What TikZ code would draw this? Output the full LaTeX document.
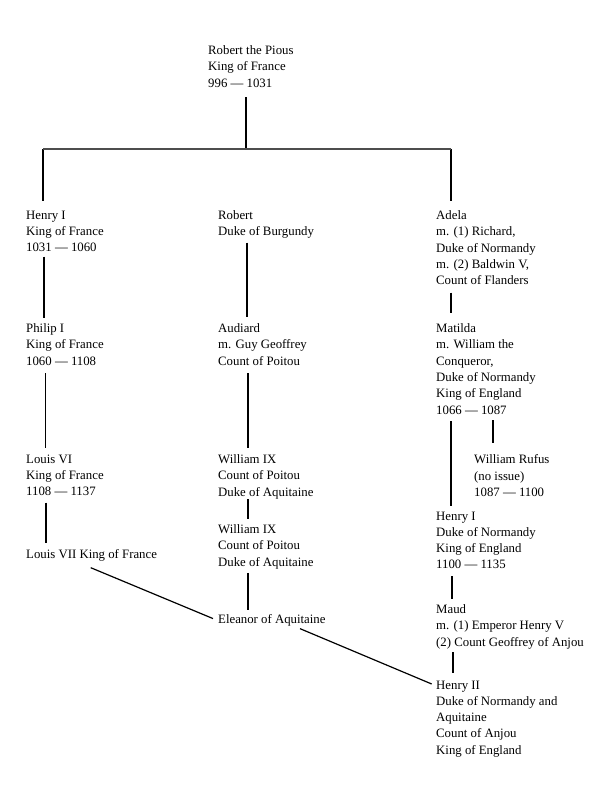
\documentclass[tikz,border=0pt]{standalone}
\usepackage{fontspec}
\setmainfont{Liberation Serif}
\usepackage{xcolor}
\definecolor{treegray}{HTML}{4D4D4D}

\begin{document}
\begin{tikzpicture}[x=1pt,y=-1pt,
  person/.style={anchor=north west,inner sep=0pt,align=left,font=\fontsize{12.8}{16.3}\selectfont},
  link/.style={line width=1.2pt},
  bar/.style={treegray,line width=1.8pt}]
\useasboundingbox (0,0) rectangle (600,800);
\node[person] (root) at (208,45.5) {Robert the Pious\\King of France\\996 --- 1031};
% left column
\node[person] (henryF) at (26,210.5) {Henry I\\King of France\\1031 --- 1060};
\node[person] (philip) at (26,323.5) {Philip I\\King of France\\1060 --- 1108};
\node[person] (louisVI) at (26,454.5) {Louis VI\\King of France\\1108 --- 1137};
\node[person] (louisVII) at (26,549.5) {Louis VII King of France};
% middle column
\node[person] (robertB) at (218,210.5) {Robert\\Duke of Burgundy};
\node[person] (audiard) at (218,323.5) {Audiard\\m. Guy Geoffrey\\Count of Poitou};
\node[person] (williamA) at (218,454.5) {William IX\\Count of Poitou\\Duke of Aquitaine};
\node[person] (williamB) at (218,524.5) {William IX\\Count of Poitou\\Duke of Aquitaine};
\node[person] (eleanor) at (218,614.5) {Eleanor of Aquitaine};
% right column
\node[person] (adela) at (436,210.5) {Adela\\m. (1) Richard,\\Duke of Normandy\\m. (2) Baldwin V,\\Count of Flanders};
\node[person] (matilda) at (436,323.5) {Matilda\\m. William the\\Conqueror,\\Duke of Normandy\\King of England\\1066 --- 1087};
\node[person] (rufus) at (474,454.5) {William Rufus\\(no issue)\\1087 --- 1100};
\node[person] (henryE) at (436,511.5) {Henry I\\Duke of Normandy\\King of England\\1100 --- 1135};
\node[person] (maud) at (436,604.5) {Maud\\m. (1) Emperor Henry V\\(2) Count Geoffrey of Anjou};
\node[person] (henryII) at (436,680.5) {Henry II\\Duke of Normandy and\\Aquitaine\\Count of Anjou\\King of England};

\coordinate (barL) at (43,148.7);
\coordinate (barM) at (246,148.7);
\coordinate (barR) at (451,148.7);
\draw[link] ([xshift=38pt,yshift=-9.5pt]root.south west) -- (barM);
\draw[link] (barL) -- ([xshift=17pt,yshift=9.8pt]henryF.north west);
\draw[link] (barR) -- ([xshift=15pt,yshift=9.8pt]adela.north west);
\draw[bar] (barL) -- (barR);

\draw[link] ([xshift=18pt,yshift=-4.5pt]henryF.south west) -- ([xshift=18pt,yshift=5.5pt]philip.north west);
\draw[link] ([xshift=19.5pt,yshift=-7.5pt]philip.south west) -- ([xshift=19.5pt,yshift=6.5pt]louisVI.north west);
\draw[link] ([xshift=20pt,yshift=-6.5pt]louisVI.south west) -- ([xshift=20pt,yshift=6.5pt]louisVII.north west);

\draw[link] ([xshift=29pt,yshift=-3.7pt]robertB.south west) -- ([xshift=29pt,yshift=6.5pt]audiard.north west);
\draw[link] ([xshift=30pt,yshift=-7.5pt]audiard.south west) -- ([xshift=30pt,yshift=6.5pt]williamA.north west);
\draw[link] ([xshift=30pt,yshift=0pt]williamA.south west) -- ([xshift=30pt,yshift=5.5pt]williamB.north west);
\draw[link] ([xshift=30pt,yshift=-3.7pt]williamB.south west) -- ([xshift=30pt,yshift=4.5pt]eleanor.north west);

\draw[link] ([xshift=15pt,yshift=-7.5pt]adela.south west) -- ([xshift=15pt,yshift=10.5pt]matilda.north west);
\draw[link] ([xshift=15pt,yshift=-7pt]matilda.south west) -- ([xshift=15pt,yshift=5.5pt]henryE.north west);
\draw[link] ([xshift=57pt,yshift=-6pt]matilda.south west) -- ([xshift=19pt,yshift=11.5pt]rufus.north west);
\draw[link] ([xshift=16pt,yshift=-7pt]henryE.south west) -- ([xshift=16pt,yshift=5.5pt]maud.north west);
\draw[link] ([xshift=17pt,yshift=-3pt]maud.south west) -- ([xshift=17pt,yshift=7.5pt]henryII.north west);

\draw[link] ([xshift=64.7pt,yshift=-6pt]louisVII.south west) -- ([xshift=-5pt,yshift=2pt]eleanor.west);
\draw[link] ([xshift=82pt,yshift=-2pt]eleanor.south west) -- ([xshift=-4.3pt,yshift=-3.5pt]henryII.north west);
\end{tikzpicture}
\end{document}
